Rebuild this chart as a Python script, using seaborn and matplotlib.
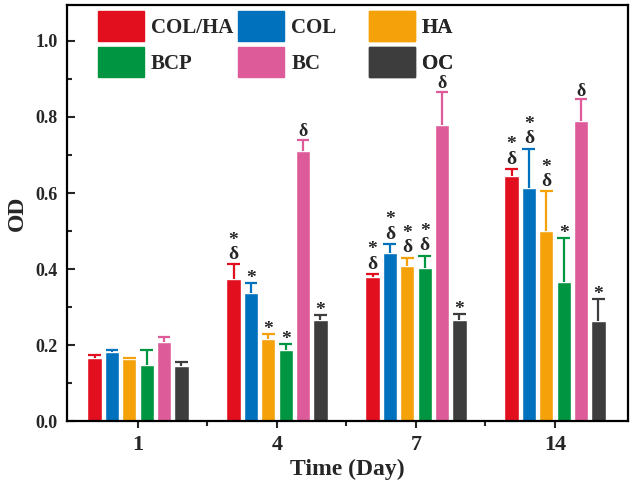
import numpy as np
import pandas as pd
import matplotlib
matplotlib.use('Agg')
import matplotlib.pyplot as plt
import matplotlib.patches as mpatches
from matplotlib.ticker import MultipleLocator
import seaborn as sns

days = ['1', '4', '7', '14']
groups = ['COL/HA', 'COL', 'HA', 'BCP', 'BC', 'OC']
colors = ['#E2101E', '#0071BC', '#F5A10A', '#009540', '#DD5B99', '#3D3D3D']

# mean OD per group for day 1, 4, 7, 14
col_ha = [0.167, 0.375, 0.380, 0.645]
col = [0.183, 0.338, 0.441, 0.612]
ha = [0.162, 0.215, 0.408, 0.500]
bcp = [0.148, 0.186, 0.402, 0.365]
bc = [0.207, 0.710, 0.780, 0.790]
oc = [0.145, 0.266, 0.266, 0.264]

# upper error (SD)
col_ha_err = [0.008, 0.037, 0.007, 0.018]
col_err = [0.003, 0.025, 0.025, 0.105]
ha_err = [0.003, 0.013, 0.022, 0.104]
bcp_err = [0.040, 0.017, 0.033, 0.117]
bc_err = [0.015, 0.030, 0.086, 0.056]
oc_err = [0.010, 0.012, 0.017, 0.058]

# significance marks above each bar
col_ha_mark = ['', '*δ', '*δ', '*δ']
col_mark = ['', '*', '*δ', '*δ']
ha_mark = ['', '*', '*δ', '*δ']
bcp_mark = ['', '*', '*δ', '*']
bc_mark = ['', 'δ', 'δ', 'δ']
oc_mark = ['', '*', '*', '*']

means = [col_ha, col, ha, bcp, bc, oc]
errs = [col_ha_err, col_err, ha_err, bcp_err, bc_err, oc_err]
marks = [col_ha_mark, col_mark, ha_mark, bcp_mark, bc_mark, oc_mark]

rows = []
for g, vals in zip(groups, means):
    for d, v in zip(days, vals):
        rows.append({'day': d, 'group': g, 'od': v})
df = pd.DataFrame(rows)

sns.set_style('ticks')
plt.rcParams['font.family'] = ['Liberation Serif', 'DejaVu Serif']
plt.rcParams['font.weight'] = 'bold'

fig = plt.figure(figsize=(6.33, 4.84), dpi=100)
ax = fig.add_axes([0.106, 0.130, 0.886, 0.860])

sns.barplot(data=df, x='day', y='od', hue='group', order=days, hue_order=groups,
            palette=colors, width=0.75, gap=0.18, errorbar=None, saturation=1,
            legend=False, ax=ax)

bar_containers = list(ax.containers)
for i, cont in enumerate(bar_containers):
    for j, p in enumerate(cont.patches):
        xc = p.get_x() + p.get_width() / 2
        h = p.get_height()
        e = errs[i][j]
        top = h + e
        half = p.get_width() * 0.45
        # upper-only error bar with a single cap
        ax.vlines(xc, h, top, color=colors[i], lw=1.6, zorder=5)
        ax.hlines(top, xc - half, xc + half, color=colors[i], lw=1.6, zorder=5)
        m = marks[i][j]
        if m == '*δ':
            ax.annotate('*\nδ', xy=(xc, top), xytext=(0, 1), textcoords='offset points',
                        ha='center', va='bottom', fontsize=14, fontweight='bold',
                        linespacing=0.8, multialignment='center')
        elif m == 'δ':
            ax.annotate(m, xy=(xc, top), xytext=(0, 2.5), textcoords='offset points',
                        ha='center', va='baseline', fontsize=13, fontweight='bold')
        elif m:
            ax.annotate(m, xy=(xc, top), xytext=(0, 0), textcoords='offset points',
                        ha='center', va='baseline', fontsize=14, fontweight='bold')

ax.set_xlim(-0.51, 3.525)
ax.set_ylim(0, 1.095)
ax.yaxis.set_minor_locator(MultipleLocator(0.1))
ax.set_xticks([0.5, 1.5, 2.5], minor=True)
yt = np.arange(0, 1.01, 0.2)
ax.set_yticks(yt)
ax.set_yticklabels([f'{v:.1f}' for v in yt])

ax.tick_params(axis='y', which='major', direction='in', length=6, width=1.5,
               labelsize=13, pad=7)
ax.tick_params(axis='y', which='minor', direction='in', length=3.5, width=1.5)
ax.tick_params(axis='x', which='major', direction='out', length=5, width=1.5,
               labelsize=16, pad=5)
ax.tick_params(axis='x', which='minor', direction='out', length=3.5, width=1.5)
for lab in ax.get_xticklabels() + ax.get_yticklabels():
    lab.set_fontweight('bold')

for s in ax.spines.values():
    s.set_visible(True)
    s.set_linewidth(1.6)
    s.set_color('black')

ax.set_xlabel('Time (Day)', fontsize=17, fontweight='bold', labelpad=3)
ax.set_ylabel('OD', fontsize=17, fontweight='bold', labelpad=5)

# legend laid out as three columns of two entries
leg_x = [0.055, 0.305, 0.538]
for k in range(3):
    idx = [k, k + 3]
    handles = [mpatches.Patch(color=colors[i]) for i in idx]
    leg = ax.legend(handles=handles, labels=[groups[i] for i in idx],
                    loc='upper left', bbox_to_anchor=(leg_x[k], 0.984),
                    frameon=False, borderpad=0, borderaxespad=0,
                    handlelength=2.2, handleheight=1.8, handletextpad=0.35,
                    labelspacing=0.3, prop={'size': 15, 'weight': 'bold'})
    ax.add_artist(leg)

fig.savefig('out.png', dpi=100)
